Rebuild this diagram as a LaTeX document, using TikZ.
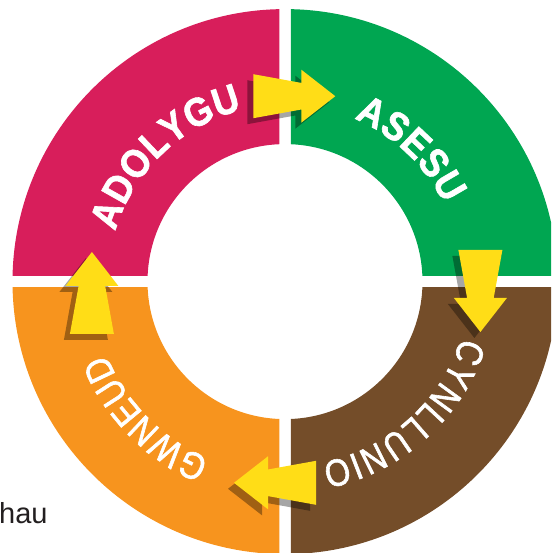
\documentclass[tikz,border=0pt]{standalone}
\usepackage{fontspec}
\newfontfamily\ringfont{Liberation Sans}
\newfontfamily\topfont[FakeStretch=0.9,FakeBold=1.5]{Liberation Sans Bold}
\newfontfamily\lowfont[FakeStretch=0.85,FakeBold=1.5]{Liberation Sans}
\usetikzlibrary{decorations.text}
\definecolor{adolygu}{RGB}{216,30,91}
\definecolor{asesu}{RGB}{0,166,81}
\definecolor{cynllunio}{RGB}{116,77,41}
\definecolor{gwneud}{RGB}{247,148,30}
\definecolor{saeth}{RGB}{255,221,23}
\definecolor{testun}{RGB}{35,31,32}
\tikzset{
	label top/.style={decoration={text along path,text color=white,
		text={|\topfont\fontsize{40}{40}\selectfont|#1},text align={fit to path}},decorate},
	label bottom/.style={decoration={text along path,text color=white,
		text={|\lowfont\fontsize{38}{38}\selectfont|#1},text align={fit to path}},decorate},
	saeth shadow/.style={fill=black,opacity=.35},
	saeth fill/.style={fill=saeth}
}
\begin{document}
\begin{tikzpicture}[x=1pt,y=1pt]
		\def\ro{272.5}
		\def\ri{137.5}
		\def\g{5.75}
		\def\saethpath{(0,22)--(48,13.3)--(48,26.5)--(82,0)--(48,-26.5)--(48,-13.3)--(0,-22)--cycle}
		\useasboundingbox (-285,-271.4) rectangle (266,281.6);
		\clip (-285,-271.4) rectangle (266,281.6);
		% the four quarters of the ring
		\foreach \sx/\sy/\col in {-1/1/adolygu,1/1/asesu,1/-1/cynllunio,-1/-1/gwneud}{
			\begin{scope}
				\clip (\sx*\g,\sy*\g) rectangle (\sx*300,\sy*300);
				\fill[\col,even odd rule] (0,0) circle (\ro pt) (0,0) circle (\ri pt);
			\end{scope}
		}
		\path[label top=ADOLYGU] (163.5:177) arc (163.5:104:177pt);
		\path[label top=ASESU] (67:177) arc (67:26:177pt);
		\path[label bottom=CYNLLUNIO] (-17.5:185) arc (-17.5:-78.5:185pt);
		\path[label bottom=GWNEUD] (-113:193) arc (-113:-158:193pt);
		% arrows between the stages
		\foreach \ax/\ay/\rot in {-31.7/185.4/0,195.4/31.6/-90,31/-201.2/180,-193.1/-52.4/90}{
			\fill[saeth shadow,shift={(\ax-6,\ay-6)},rotate=\rot] \saethpath;
			\fill[saeth fill,shift={(\ax,\ay)},rotate=\rot] \saethpath;
		}
		\node[anchor=base west,inner sep=0,text=testun,font=\ringfont\fontsize{29}{29}\selectfont] (hau) at (-286,-241.9) {hau};
	\end{tikzpicture}
\end{document}
